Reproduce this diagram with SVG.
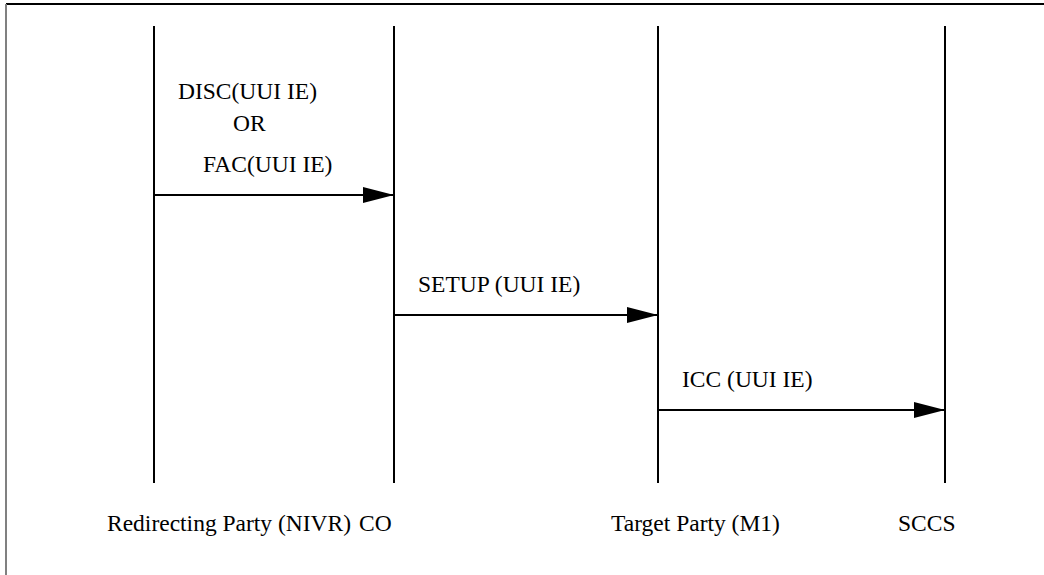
<svg xmlns="http://www.w3.org/2000/svg" width="1044" height="575" viewBox="0 0 1044 575">
<style>
.life{stroke:#000;stroke-width:2;fill:none}
.msg{stroke:#000;stroke-width:2;fill:none;marker-end:url(#ah)}
text{font-family:"Liberation Serif","Times New Roman",serif;font-size:23.5px;fill:#000}
</style>
<defs>
<marker id="ah" markerUnits="userSpaceOnUse" markerWidth="32" markerHeight="18" refX="31" refY="8" orient="auto">
<path d="M0,0 L31,8 L0,16 Z" fill="#000"/>
</marker>
</defs>
<rect width="1044" height="575" fill="#fff"/>
<line x1="6" y1="4" x2="1044" y2="4" stroke="#000" stroke-width="2"/>
<line x1="6" y1="4" x2="6" y2="575" stroke="#808080" stroke-width="2"/>
<g id="node-redirecting">
<line class="life" x1="154" y1="26" x2="154" y2="483"/>
<text x="107" y="531">Redirecting Party (NIVR)</text>
</g>
<g id="node-co">
<line class="life" x1="394" y1="26" x2="394" y2="483"/>
<text x="359" y="531">CO</text>
</g>
<g id="node-target">
<line class="life" x1="658" y1="26" x2="658" y2="483"/>
<text x="611" y="531">Target Party (M1)</text>
</g>
<g id="node-sccs">
<line class="life" x1="945" y1="26" x2="945" y2="483"/>
<text x="898" y="531">SCCS</text>
</g>
<g id="connectors">
<line class="msg" x1="154" y1="195" x2="394" y2="195"/>
<text x="178" y="99">DISC(UUI IE)</text>
<text x="233" y="131">OR</text>
<text x="203" y="172">FAC(UUI IE)</text>
<line class="msg" x1="394" y1="315" x2="658" y2="315"/>
<text x="418" y="292">SETUP (UUI IE)</text>
<line class="msg" x1="658" y1="410" x2="945" y2="410"/>
<text x="682" y="387">ICC (UUI IE)</text>
</g>
</svg>
